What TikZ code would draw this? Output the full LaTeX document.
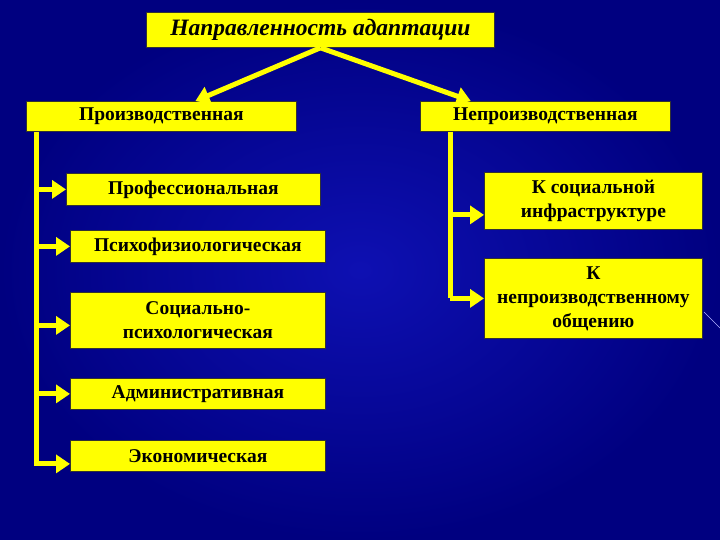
\documentclass[tikz,border=0pt]{standalone}
\usepackage{fontspec}
\setmainfont{Liberation Serif}
\usetikzlibrary{positioning,arrows.meta}
\definecolor{bgin}{RGB}{14,16,178}
\definecolor{bgout}{RGB}{0,0,128}
\definecolor{boxyellow}{RGB}{255,255,0}

\begin{document}
\begin{tikzpicture}[
  x=1pt, y=-1pt, font=\bfseries\fontsize{19.5}{24}\selectfont,
  >={Triangle[length=14pt,width=18pt]},
  box/.style={draw=black!80, line width=0.8pt, fill=boxyellow, align=center,
    anchor=north west, inner sep=2pt, minimum width=#1},
  box/.default=255pt,
  link/.style={draw=boxyellow, line width=5pt, ->}]
  \useasboundingbox (0,0) rectangle (720,540);
  \shade[inner color=bgin, outer color=bgout] (0,0) rectangle (720,540);
  \draw[white!70!blue, line width=0.6pt] (704,312) -- (720,328);

  \node[box=348pt, minimum height=35pt, font=\bfseries\itshape\fontsize{23.5}{26}\selectfont]
    (title) at (146,12) {Направленность адаптации};

  % first level
  \node[box=270pt, minimum height=30pt] (prod) at (26,101) {Производственная};
  \node[box=250pt, minimum height=30pt] (nonprod) at (420,101) {Непроизводственная};

  % production branch
  \node[box=254pt, minimum height=32pt] (prof) at (66,173) {Профессиональная};
  \node[box, minimum height=32pt] (psych) at (70,230) {Психофизиологическая};
  \node[box, minimum height=56pt] (soc) at (70,292) {Социально-\\психологическая};
  \node[box, minimum height=31pt] (adm) at (70,378) {Административная};
  \node[box, minimum height=31pt] (econ) at (70,440) {Экономическая};

  % non-production branch
  \node[box=218pt, minimum height=57pt] (infra) at (484,172) {К социальной\\инфраструктуре};
  \node[box=218pt, minimum height=80pt] (comm) at (484,258) {К\\непроизводственному\\общению};

  \coordinate (ltop) at ([xshift=10pt]prod.south west);
  \coordinate (rtop) at ([xshift=30pt]nonprod.south west);

  \draw[link] (title.south) -- ([xshift=34pt]prod.north);
  \draw[link] (title.south) -- ([xshift=-200pt]nonprod.north east);

  \draw[link] (ltop) |- ([yshift=-8pt]econ.west);
  \foreach \n in {prof,psych,adm}
    \draw[link] (ltop |- \n.west) -- (\n.west);
  \draw[link] (ltop |- soc.west) ++(0,5) -- ([yshift=-5pt]soc.west);

  \draw[link, -] (rtop) -- ([yshift=-40pt]rtop |- comm.north);
  \draw[link] (rtop |- infra.west) ++(0,14) -- ([yshift=-14pt]infra.west);
  \draw[link] (rtop |- comm.west) -- (comm.west);
\end{tikzpicture}
\end{document}
